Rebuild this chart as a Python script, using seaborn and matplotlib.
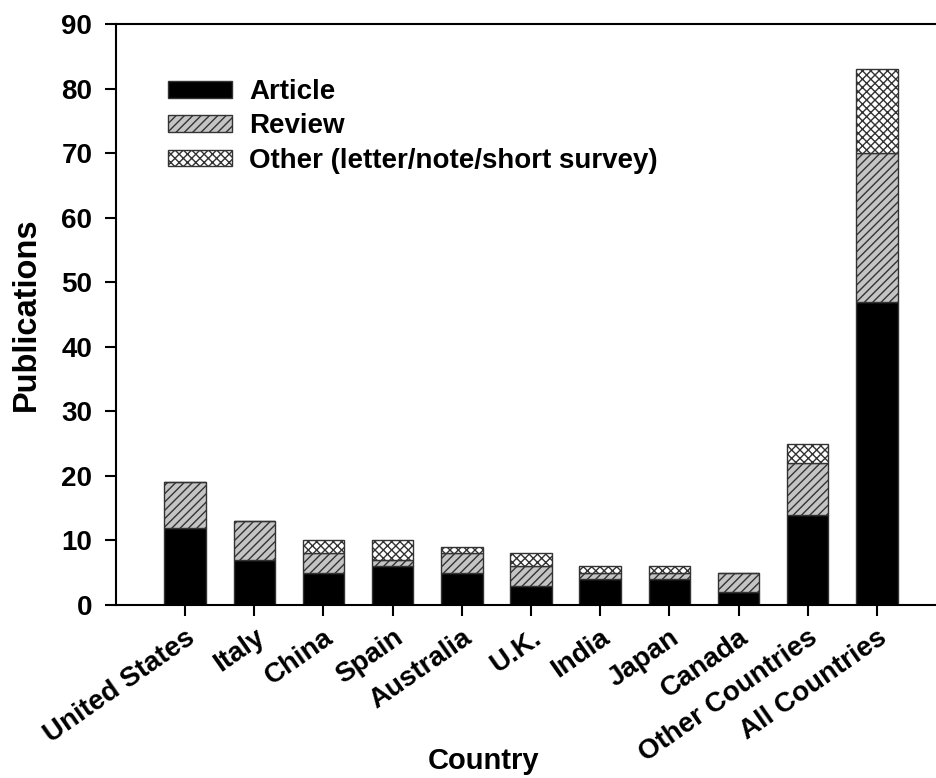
import matplotlib
matplotlib.use("Agg")
import matplotlib.pyplot as plt
import seaborn as sns
import numpy as np
import pandas as pd

countries = ["United States", "Italy", "China", "Spain", "Australia", "U.K.",
             "India", "Japan", "Canada", "Other Countries", "All Countries"]
article = [12, 7, 5, 6, 5, 3, 4, 4, 2, 14, 47]
review = [7, 6, 3, 1, 3, 3, 1, 1, 3, 8, 23]
other = [0, 0, 2, 3, 1, 2, 1, 1, 0, 3, 13]
yticks = [0, 10, 20, 30, 40, 50, 60, 70, 80, 90]

sns.set_theme(style="white")
plt.rcParams['font.family'] = ['Liberation Sans', 'DejaVu Sans']
plt.rcParams['font.weight'] = 'bold'
plt.rcParams['hatch.linewidth'] = 1.0
for k in ['text.color', 'axes.labelcolor', 'xtick.color', 'ytick.color']:
    plt.rcParams[k] = 'black'

fig = plt.figure(figsize=(9.36, 7.78), dpi=100)
ax = fig.add_axes([0.1239, 0.2224, 0.8868, 0.7468])

df = pd.DataFrame({"Country": countries, "Article": article,
                   "Review": review, "Other": other})
bottom_rev = np.array(article)
bottom_oth = np.array(article) + np.array(review)

sns.barplot(data=df, x="Country", y="Article", color="black", width=0.6,
            edgecolor="#333333", linewidth=1.0, saturation=1, ax=ax,
            label="Article")
sns.barplot(data=df, x="Country", y="Review", bottom=bottom_rev, color="#c4c4c4",
            width=0.6, edgecolor="#333333", linewidth=1.0, saturation=1,
            hatch="////", ax=ax, label="Review")
sns.barplot(data=df, x="Country", y="Other", bottom=bottom_oth, color="white",
            width=0.6, edgecolor="#333333", linewidth=1.0, saturation=1,
            hatch="xxxx", ax=ax, label="Other (letter/note/short survey)")

ax.set_xlim(-1, 11)
ax.set_ylim(0, 90)
ax.set_yticks(yticks)
ax.set_yticklabels([str(v) for v in yticks], fontsize=20, fontweight="bold")
ax.set_xticks(range(len(countries)))
ax.set_xticklabels(countries, rotation=35, ha="right", rotation_mode="anchor",
                   fontsize=20, fontweight="bold")
ax.tick_params(axis="both", direction="out", length=8, width=1.5, color="black",
               bottom=True, left=True, pad=6)
ax.tick_params(axis="y", pad=9)
for s in ["left", "bottom", "top"]:
    ax.spines[s].set_color("black")
    ax.spines[s].set_linewidth(1.5)
ax.spines["right"].set_visible(False)

ax.set_xlabel("Country", fontsize=21, fontweight="bold")
ax.xaxis.set_label_coords(0.443, -0.245)
ax.set_ylabel("Publications", fontsize=23.5, fontweight="bold")
ax.yaxis.set_label_coords(-0.089, 0.5)

leg = ax.legend(loc="upper left", bbox_to_anchor=(0.063, 0.905), frameon=False,
                prop={"size": 20, "weight": "bold"}, handlelength=2.3,
                handleheight=0.55, labelspacing=0.3, handletextpad=0.6,
                borderpad=0, borderaxespad=0)

fig.savefig("out.png", dpi=100)
